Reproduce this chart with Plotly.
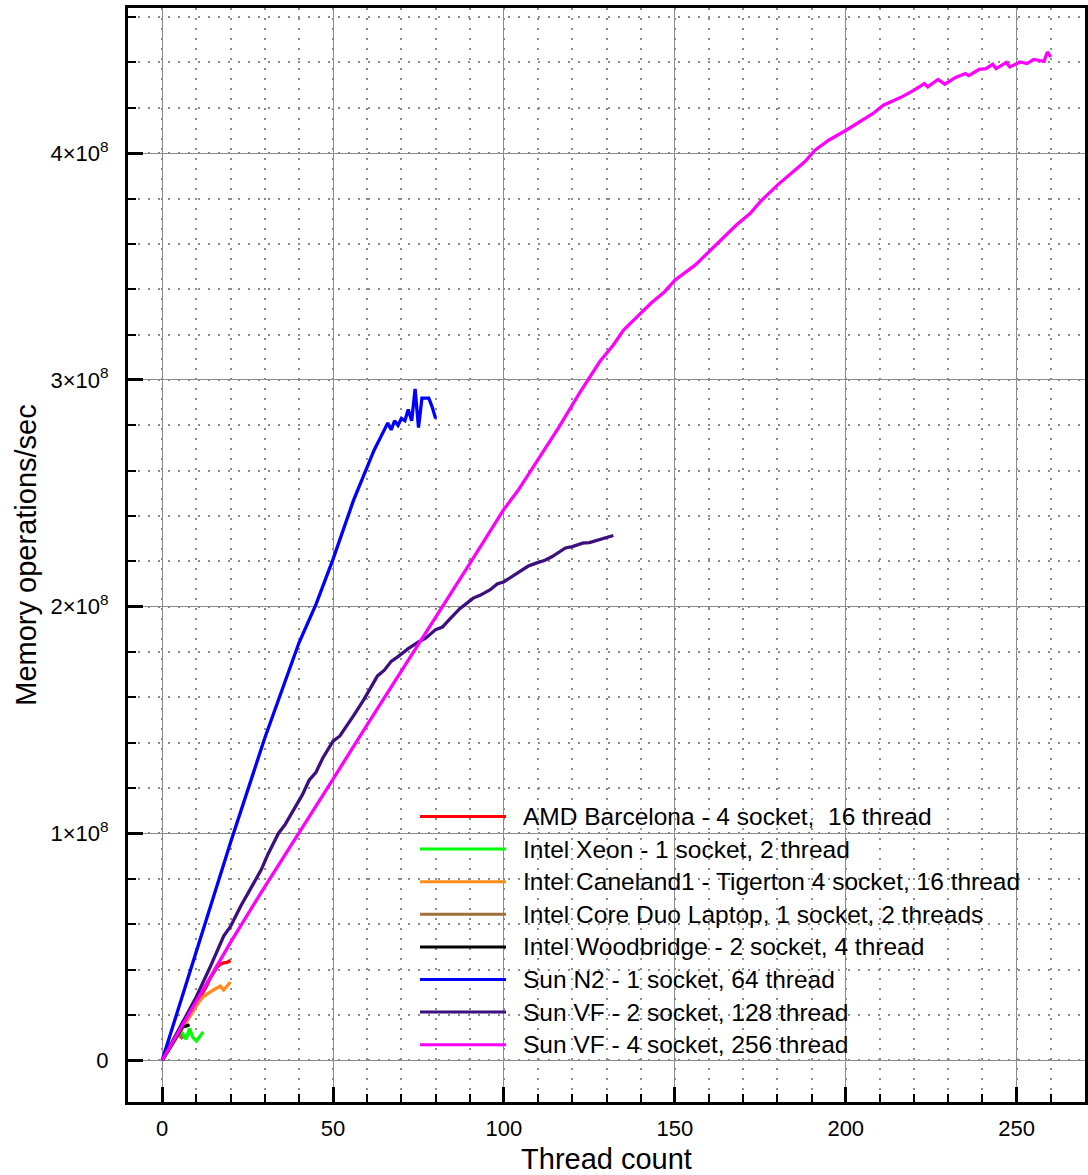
import plotly.graph_objects as go

# ---------------- data (values in units of 1e8 memory operations/sec) ----------------
SCALE = 1e8

amd_x = [0, 2, 4, 6, 8, 10, 12, 13, 14, 15, 16, 17, 18, 19, 20]
amd_y = [0, 0.052, 0.104, 0.156, 0.205, 0.25, 0.30, 0.327, 0.36, 0.385, 0.41, 0.423, 0.43, 0.432, 0.44]

xeon_x = [5, 6, 7, 8, 9, 10, 11, 12]
xeon_y = [0.10, 0.118, 0.093, 0.14, 0.10, 0.085, 0.105, 0.125]

caneland_x = [0, 4, 8, 10, 11, 12, 13, 14, 15, 16, 17, 18, 19, 20]
caneland_y = [0, 0.097, 0.195, 0.24, 0.262, 0.28, 0.292, 0.30, 0.31, 0.318, 0.327, 0.31, 0.325, 0.345]

coreduo_x = [0, 1, 2, 3, 4, 5, 6]
coreduo_y = [0, 0.025, 0.05, 0.075, 0.10, 0.115, 0.093]

woodbridge_x = [0, 2, 4, 6, 7, 8]
woodbridge_y = [0, 0.05, 0.10, 0.148, 0.150, 0.157]

n2_x = [0, 10, 20, 30, 40, 45, 50, 56, 62, 64, 66, 67, 68, 69, 70, 71, 72, 73, 74, 75, 76, 77, 78, 79, 80]
n2_y = [0, 0.48, 0.96, 1.42, 1.84, 2.01, 2.21, 2.47, 2.69, 2.75, 2.81, 2.78, 2.82, 2.80, 2.83, 2.82,
        2.87, 2.82, 2.96, 2.79, 2.92, 2.92, 2.92, 2.88, 2.83]

vf2_x = [0, 5, 10, 14, 18, 20, 23, 26, 29, 31, 34, 36, 39, 41, 43, 45, 47, 50, 52, 54, 56, 59, 61, 63,
         65, 67, 69, 72, 75, 77, 80, 82, 84, 87, 91, 93, 96, 98, 100, 103, 107, 109, 112, 114, 118,
         120, 123, 125, 128, 130, 132]
vf2_y = [0, 0.14, 0.28, 0.41, 0.548, 0.59, 0.68, 0.76, 0.841, 0.91, 1.0, 1.04, 1.12, 1.17, 1.235,
         1.27, 1.333, 1.407, 1.43, 1.473, 1.52, 1.59, 1.645, 1.695, 1.72, 1.759, 1.78, 1.815, 1.845,
         1.86, 1.899, 1.91, 1.943, 1.99, 2.038, 2.05, 2.075, 2.10, 2.11, 2.14, 2.178, 2.19, 2.205,
         2.22, 2.259, 2.265, 2.28, 2.283, 2.295, 2.305, 2.314]

vf4_x = [0, 10, 20, 30, 40, 50, 60, 70, 80, 90, 100, 104, 110, 116, 122, 128, 132, 135, 139, 143,
         147, 150, 156, 160, 164, 168, 172, 175, 180, 184, 188, 191, 195, 200, 204, 208, 211, 216,
         220, 223, 224, 227, 229, 232, 235, 236, 239, 241, 243, 244, 247, 248, 251, 253, 255, 257,
         258, 259, 260]
vf4_y = [0, 0.26, 0.52, 0.765, 1.0, 1.24, 1.48, 1.715, 1.955, 2.19, 2.43, 2.51, 2.65, 2.79, 2.94,
         3.08, 3.154, 3.22, 3.279, 3.338, 3.389, 3.44, 3.507, 3.565, 3.624, 3.683, 3.734, 3.786,
         3.859, 3.91, 3.962, 4.013, 4.057, 4.10, 4.138, 4.175, 4.211, 4.245, 4.278, 4.307, 4.292,
         4.325, 4.304, 4.333, 4.351, 4.342, 4.369, 4.373, 4.392, 4.373, 4.40, 4.38, 4.402, 4.395,
         4.413, 4.41, 4.405, 4.446, 4.424]

series_names = [
    "AMD Barcelona - 4 socket,\u00a0 16 thread",
    "Intel Xeon - 1 socket, 2 thread",
    "Intel Caneland1 - Tigerton 4 socket, 16 thread",
    "Intel Core Duo Laptop, 1 socket, 2 threads",
    "Intel Woodbridge - 2 socket, 4 thread",
    "Sun N2 - 1 socket, 64 thread",
    "Sun VF - 2 socket, 128 thread",
    "Sun VF - 4 socket, 256 thread",
]
series_x = [amd_x, xeon_x, caneland_x, coreduo_x, woodbridge_x, n2_x, vf2_x, vf4_x]
series_y = [amd_y, xeon_y, caneland_y, coreduo_y, woodbridge_y, n2_y, vf2_y, vf4_y]
colors = ["#ff0000", "#00ff00", "#ff8c1a", "#a0703c", "#000000", "#0000ff", "#3c0f80", "#ff00ff"]

x_ticks = [0, 50, 100, 150, 200, 250]
y_ticks = [0, 1e8, 2e8, 3e8, 4e8]
y_ticktext = ["0", "1×10<sup>8</sup>", "2×10<sup>8</sup>", "3×10<sup>8</sup>", "4×10<sup>8</sup>"]

# ---------------- figure ----------------
W, H = 1088, 1175
ML, MR, MT, MB = 128, 3, 8, 73
PW, PH = W - ML - MR, H - MT - MB
FONT = "Liberation Sans, Arial, Helvetica, sans-serif"

fig = go.Figure()
for name, xs, ys, c in zip(series_names, series_x, series_y, colors):
    fig.add_trace(go.Scatter(
        x=xs, y=[v * SCALE for v in ys], mode="lines", name=name,
        line=dict(color=c, width=3.3), showlegend=False,
    ))

# manual legend (long line samples like the original)
shapes, annotations = [], []
for i, (name, c) in enumerate(zip(series_names, colors)):
    py = 816.5 + 32.6 * i
    yp = (MT + PH - py) / PH
    shapes.append(dict(type="line", xref="paper", yref="paper",
                       x0=(420 - ML) / PW, x1=(506 - ML) / PW, y0=yp, y1=yp,
                       line=dict(color=c, width=3)))
    annotations.append(dict(xref="paper", yref="paper", x=(521 - ML) / PW, y=yp,
                            xanchor="left", yanchor="middle", showarrow=False,
                            text=name, font=dict(size=24.5, color="black", family=FONT)))

grid_major = "#8c8c8c"
grid_minor = "#8c8c8c"

fig.update_layout(
    width=W, height=H,
    margin=dict(l=ML, r=MR, t=MT, b=MB, pad=0),
    paper_bgcolor="white", plot_bgcolor="white",
    font=dict(family=FONT, color="black", size=22),
    shapes=shapes, annotations=annotations,
    xaxis=dict(
        range=[-10, 270], tickvals=x_ticks, ticks="inside", ticklen=15, tickwidth=3,
        tickcolor="black", showline=True, linewidth=3, linecolor="black", mirror=True,
        zeroline=False, showgrid=True, gridcolor=grid_major, gridwidth=1,
        tickfont=dict(size=22), ticklabelstandoff=5, automargin=False,
        minor=dict(dtick=10, tick0=0, ticks="inside", ticklen=8, tickwidth=2, tickcolor="black",
                   showgrid=True, gridcolor=grid_minor, gridwidth=1.5, griddash="2px,8px"),
        title=dict(text="Thread count", font=dict(size=29), standoff=15),
    ),
    yaxis=dict(
        range=[-1.84e7, 4.64e8], tickvals=y_ticks, ticktext=y_ticktext, ticks="inside",
        ticklen=15, tickwidth=3, tickcolor="black", showline=True, linewidth=3,
        linecolor="black", mirror=True, zeroline=False, showgrid=True, gridcolor=grid_major,
        gridwidth=1, tickfont=dict(size=22), ticklabelstandoff=12, automargin=False,
        minor=dict(dtick=2e7, tick0=0, ticks="inside", ticklen=8, tickwidth=2, tickcolor="black",
                   showgrid=True, gridcolor=grid_minor, gridwidth=1.5, griddash="2px,8px"),
        title=dict(text="Memory operations/sec", font=dict(size=29), standoff=6),
    ),
)

fig.write_html("out.html")
